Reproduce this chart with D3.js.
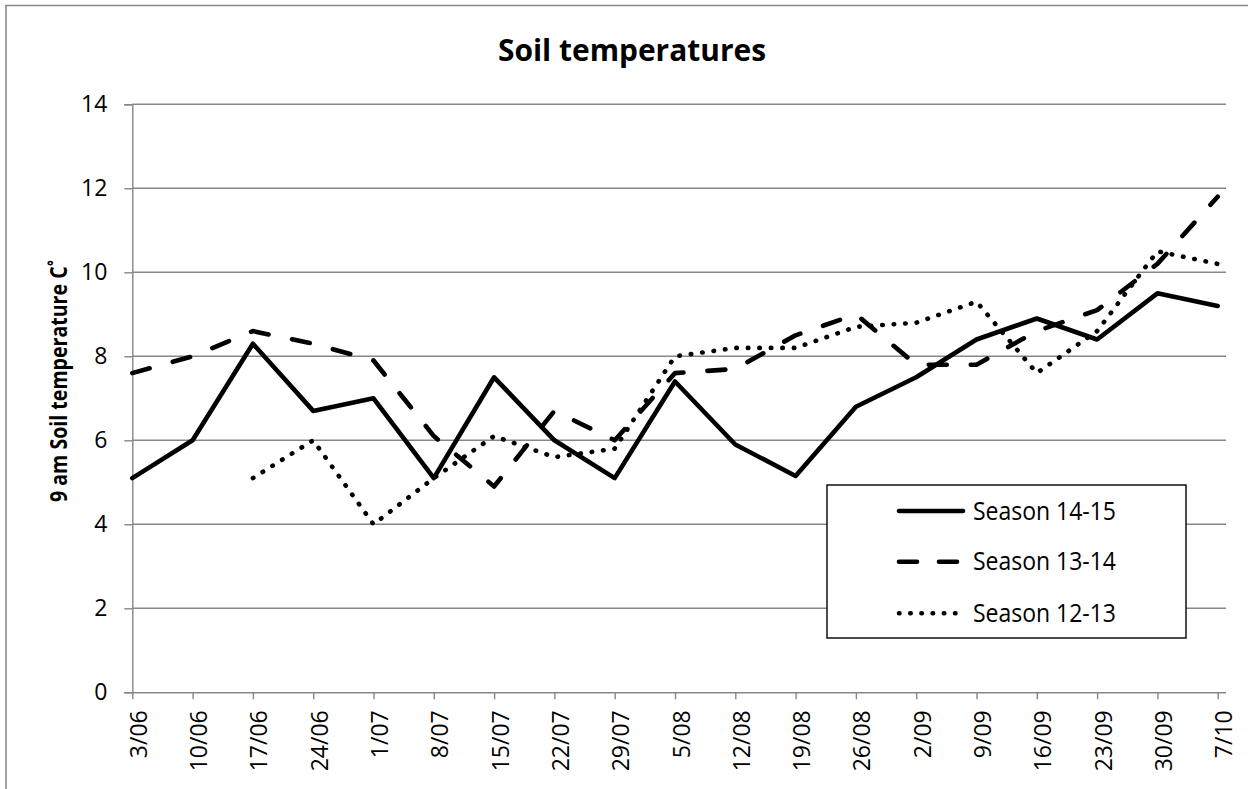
<!DOCTYPE html>
<html>
<head>
<meta charset="utf-8">
<script src="https://cdn.jsdelivr.net/npm/d3@7"></script>
<style>
  html, body { margin: 0; padding: 0; background: #fff; }
  svg { display: block; }
</style>
</head>
<body>
<svg id="chart" width="1248" height="789"></svg>
<script>
// ---- data ----
const categories = ["3/06","10/06","17/06","24/06","1/07","8/07","15/07","22/07","29/07","5/08","12/08","19/08","26/08","2/09","9/09","16/09","23/09","30/09","7/10"];
const season1415 = [5.1, 6.0, 8.3, 6.7, 7.0, 5.1, 7.5, 6.0, 5.1, 7.4, 5.9, 5.15, 6.8, 7.5, 8.4, 8.9, 8.4, 9.5, 9.2];
const season1314 = [7.6, 8.0, 8.6, 8.3, 7.9, 6.1, 4.9, 6.7, 6.0, 7.6, 7.7, 8.5, 9.0, 7.8, 7.8, 8.6, 9.1, 10.2, 11.8];
const season1213 = [null, null, 5.1, 6.0, 4.0, 5.1, 6.1, 5.6, 5.8, 8.0, 8.2, 8.2, 8.7, 8.8, 9.3, 7.6, 8.6, 10.5, 10.2];
const seriesNames = ["Season 14-15", "Season 13-14", "Season 12-13"];
const yTicks = [0, 2, 4, 6, 8, 10, 12, 14];
const titleText = "Soil temperatures";
const yTitle = "9 am Soil temperature C˚";

(function () {
// ---- layout ----
const svg = d3.select("#chart");
const pLeft = 132.3, pRight = 1217.7, pTop = 104.3, pBottom = 692.3;
const gridRight = 1226;
const gridColor = "#878787";
const font = "'Open Sans', 'Noto Sans', sans-serif";

const x = d3.scalePoint().domain(categories).range([pLeft, pRight]);
const y = d3.scaleLinear().domain([0, 14]).range([pBottom, pTop]);

// outer frame (cropped at right and bottom)
svg.append("rect").attr("x", 6).attr("y", 5.5).attr("width", 1300).attr("height", 900)
  .attr("fill", "none").attr("stroke", gridColor).attr("stroke-width", 1.5);

function squeeze(sel, target) {
  const w = sel.node().getComputedTextLength();
  if (w > target) sel.attr("textLength", target).attr("lengthAdjust", "spacingAndGlyphs");
  else {
    const fs = parseFloat(sel.attr("font-size"));
    sel.attr("font-size", fs * target / w);
  }
}

// title
const title = svg.append("text").attr("x", 632).attr("y", 61)
  .attr("text-anchor", "middle").attr("font-family", font).attr("font-weight", "bold")
  .attr("font-size", 31).attr("fill", "#000").text(titleText);
squeeze(title, 268);

// gridlines
svg.append("g").selectAll("line").data(yTicks.filter(d => d > 0)).join("line")
  .attr("x1", pLeft).attr("x2", gridRight)
  .attr("y1", d => y(d)).attr("y2", d => y(d))
  .attr("stroke", gridColor).attr("stroke-width", 1.4);

// y axis
const yAxis = svg.append("g").attr("transform", `translate(${pLeft},0)`)
  .call(d3.axisLeft(y).tickValues(yTicks).tickSize(8).tickPadding(17).tickFormat(d3.format("d")));
yAxis.select(".domain").attr("stroke", gridColor).attr("stroke-width", 1.4);
yAxis.selectAll(".tick line").attr("stroke", gridColor).attr("stroke-width", 1.4);
yAxis.selectAll(".tick text").attr("font-family", font).attr("font-size", 23).attr("fill", "#000");

// x axis
const xAxis = svg.append("g").attr("transform", `translate(0,${pBottom})`)
  .call(d3.axisBottom(x).tickSize(7).tickSizeOuter(0));
xAxis.select(".domain").attr("d", `M${pLeft},0.5H${gridRight}`).attr("stroke", gridColor).attr("stroke-width", 1.4);
xAxis.selectAll(".tick line").attr("stroke", gridColor).attr("stroke-width", 1.4);
xAxis.selectAll(".tick text")
  .attr("font-family", font).attr("font-size", 23).attr("fill", "#000")
  .attr("text-anchor", "end")
  .attr("transform", "translate(6,18) rotate(-90)")
  .attr("x", 0).attr("y", 0).attr("dy", "0.35em");

// y title
const yt = svg.append("text").attr("transform", "translate(67,381) rotate(-90)")
  .attr("text-anchor", "middle").attr("font-family", font).attr("font-weight", "bold")
  .attr("font-size", 24).attr("fill", "#000").text(yTitle);
squeeze(yt, 242);

// lines
const styles = [
  { dash: null, cap: "round" },
  { dash: "18,24", cap: "round" },
  { dash: "0.5,11", cap: "round" }
];
const allSeries = [season1415, season1314, season1213];
const lineGen = d3.line()
  .defined(d => d.v !== null)
  .x(d => x(d.c)).y(d => y(d.v));

allSeries.forEach((vals, i) => {
  const data = vals.map((v, j) => ({ c: categories[j], v }));
  svg.append("path").datum(data)
    .attr("d", lineGen)
    .attr("fill", "none").attr("stroke", "#000").attr("stroke-width", 4.6)
    .attr("stroke-linejoin", "round").attr("stroke-linecap", styles[i].cap)
    .attr("stroke-dasharray", styles[i].dash);
});

// legend
const lg = svg.append("g");
lg.append("rect").attr("x", 827).attr("y", 485).attr("width", 359).attr("height", 153)
  .attr("fill", "#fff").attr("stroke", "#000").attr("stroke-width", 1.4);
const legY = [511, 561.7, 613.3];
seriesNames.forEach((name, i) => {
  lg.append("line").attr("x1", 899).attr("x2", 963).attr("y1", legY[i]).attr("y2", legY[i])
    .attr("stroke", "#000").attr("stroke-width", 4.6)
    .attr("stroke-linecap", styles[i].cap)
    .attr("stroke-dasharray", i === 1 ? "18,22" : (i === 2 ? "0.5,10.7" : null));
  const t = lg.append("text").attr("x", 973).attr("y", legY[i]).attr("dy", "0.35em")
    .attr("font-family", font).attr("font-size", 25).attr("fill", "#000").text(name);
  squeeze(t, 143);
});
})();
</script>
</body>
</html>
